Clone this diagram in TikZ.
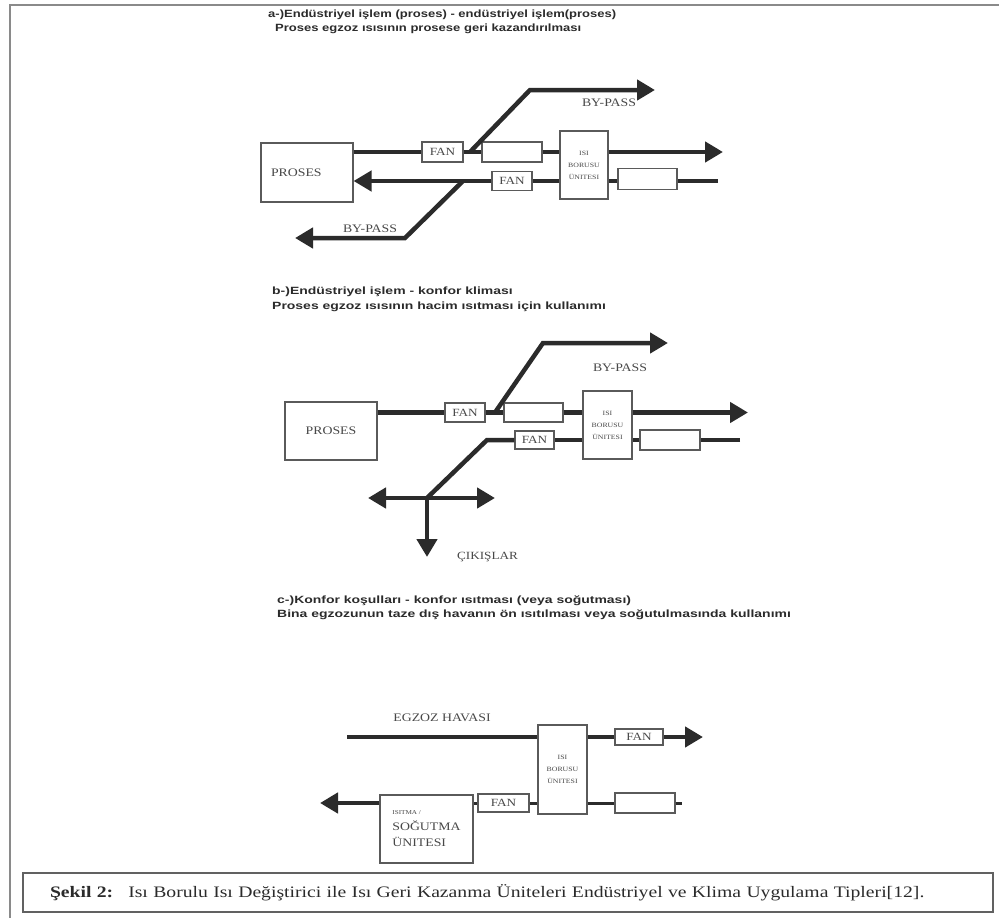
\documentclass[tikz,border=0pt]{standalone}
\usepackage{fontspec}
\setmainfont[FakeStretch=1.2]{Liberation Serif}
\newfontfamily\headfont[FakeStretch=1.33]{Liberation Sans}
\newfontfamily\headfontA[FakeStretch=1.24]{Liberation Sans}
\newfontfamily\capfont[FakeStretch=1.23]{Liberation Serif}
\usetikzlibrary{arrows.meta}
\definecolor{ink}{HTML}{2B2B2B}
\definecolor{boxline}{HTML}{5A5A5A}
\definecolor{labeltext}{HTML}{484848}
\definecolor{frameline}{HTML}{8A8A8A}

\begin{document}
\begin{tikzpicture}[x=1pt,y=-1pt,
  flow/.style={draw=ink,line width=4.5pt},
  thinflow/.style={draw=ink,line width=3pt},
  flowout/.style={flow,-{Triangle[length=18pt,width=20pt]}},
  unit/.style={draw=boxline,line width=1.1pt,fill=white,inner sep=0pt,text=labeltext},
  fanbox/.style={unit,font=\fontsize{11}{11}\selectfont},
  pipebox/.style={unit,align=center,font=\fontsize{6.5}{12}\selectfont},
  tag/.style={inner sep=0pt,text=labeltext,font=\fontsize{11.5}{12}\selectfont},
  head/.style={anchor=west,inner sep=0pt,text=ink,font=\headfont\bfseries\fontsize{10.5}{12}\selectfont},
  headA/.style={head,font=\headfontA\bfseries\fontsize{10.5}{12}\selectfont}]
  \useasboundingbox (0,0) rectangle (999,918);
  \draw[frameline,line width=1.5pt] (10,918) -- (10,5) -- (999,5);

  \node[headA] (headA1) at (268,15) {a-)Endüstriyel işlem (proses) - endüstriyel işlem(proses)};
  \node[headA] (headA2) at (275,29) {Proses egzoz ısısının prosese geri kazandırılması};
  \node[unit,minimum width=92pt,minimum height=59pt,tag,text width=72pt,align=left] (procA) at (307,172.5) {PROSES};
  \node[fanbox,minimum width=41pt,minimum height=20pt] (fanA1) at (442.5,152) {FAN};
  \node[unit,minimum width=60pt,minimum height=20pt] (emptyA1) at (512,152) {};
  \node[pipebox,minimum width=48pt,minimum height=68pt] (hpA) at (584,165) {ISI\\BORUSU\\ÜNITESI};
  \node[fanbox,minimum width=40pt,minimum height=19pt] (fanA2) at (512,181) {FAN};
  \node[unit,minimum width=59pt,minimum height=21pt] (emptyA2) at (647.5,179) {};
  \coordinate (outA) at (723,152);
  \coordinate (inA) at (718,181);
  \coordinate (jA1) at (470,152);
  \coordinate (bpA1) at (530,90);
  \coordinate (bpA1out) at (655,90);
  \coordinate (jA2) at (463,181);
  \coordinate (bpA2) at (405,238);
  \coordinate (bpA2out) at (295,238);
  \draw[flow] (procA.east |- fanA1.west) -- (fanA1.west);
  \draw[flow] (fanA1.east) -- (emptyA1.west);
  \draw[flow] (emptyA1.east) -- (hpA.west |- emptyA1.east);
  \draw[flowout] (hpA.east |- emptyA1.east) -- (outA);
  \draw[flowout] (jA1) -- (bpA1) -- (bpA1out);
  \draw[flow] (inA) -- (emptyA2.east |- inA);
  \draw[flow] (emptyA2.west |- inA) -- (hpA.east |- inA);
  \draw[flow] (hpA.west |- fanA2.east) -- (fanA2.east);
  \draw[flowout] (fanA2.west) -- (procA.east |- fanA2.west);
  \draw[flowout] (jA2) -- (bpA2) -- (bpA2out);
  \node[tag] (bypassA1) at (609,103) {BY-PASS};
  \node[tag] (bypassA2) at (370,229) {BY-PASS};

  \node[head] (headB1) at (272,292) {b-)Endüstriyel işlem - konfor kliması};
  \node[head] (headB2) at (272,307) {Proses egzoz ısısının hacim ısıtması için kullanımı};
  \node[unit,minimum width=92pt,minimum height=58pt,tag] (procB) at (331,431) {PROSES};
  \node[fanbox,minimum width=40pt,minimum height=19pt] (fanB1) at (465,412.5) {FAN};
  \node[unit,minimum width=59pt,minimum height=19pt] (emptyB1) at (533.5,412.5) {};
  \node[pipebox,minimum width=49pt,minimum height=68pt] (hpB) at (607.5,425) {ISI\\BORUSU\\ÜNITESI};
  \node[fanbox,minimum width=39pt,minimum height=18pt] (fanB2) at (534.5,440) {FAN};
  \node[unit,minimum width=60pt,minimum height=20pt] (emptyB2) at (670,440) {};
  \coordinate (outB) at (748,412.5);
  \coordinate (inB) at (740,440);
  \coordinate (jB1) at (495,412.5);
  \coordinate (bpB1) at (543,343);
  \coordinate (bpB1out) at (668,343);
  \coordinate (bendB) at (487,440);
  \coordinate (jB) at (427,498);
  \coordinate (exitL) at (368,498);
  \coordinate (exitR) at (495,498);
  \coordinate (exitD) at (427,557);
  \draw[flow] (procB.east |- fanB1.west) -- (fanB1.west);
  \draw[flow] (fanB1.east) -- (emptyB1.west);
  \draw[flow] (emptyB1.east) -- (hpB.west |- emptyB1.east);
  \draw[flowout] (hpB.east |- emptyB1.east) -- (outB);
  \draw[flowout] (jB1) -- (bpB1) -- (bpB1out);
  \draw[flow] (inB) -- (emptyB2.east);
  \draw[flow] (emptyB2.west) -- (hpB.east |- emptyB2.west);
  \draw[flow] (hpB.west |- fanB2.east) -- (fanB2.east);
  \draw[flow] (fanB2.west) -- (bendB) -- (jB);
  \draw[flowout] (jB) -- (exitL);
  \draw[flowout] (jB) -- (exitR);
  \draw[flowout] (jB) -- (exitD);
  \node[tag] (bypassB) at (620,368) {BY-PASS};
  \node[tag,font=\fontsize{11}{12}\selectfont] (exits) at (487.5,557) {ÇIKIŞLAR};

  \node[head] (headC1) at (277,601) {c-)Konfor koşulları - konfor ısıtması (veya soğutması)};
  \node[head] (headC2) at (277,615) {Bina egzozunun taze dış havanın ön ısıtılması veya soğutulmasında kullanımı};
  \node[pipebox,minimum width=49pt,minimum height=89pt] (hpC) at (562.5,769.5) {ISI\\BORUSU\\ÜNITESI};
  \node[fanbox,minimum width=48pt,minimum height=16pt] (fanC1) at (639,737) {FAN};
  \node[unit,minimum width=60pt,minimum height=20pt] (emptyC) at (645,803) {};
  \node[fanbox,minimum width=51pt,minimum height=18pt] (fanC2) at (503.5,803) {FAN};
  \node[unit,minimum width=93pt,minimum height=68pt,align=left,font=\fontsize{11.5}{16}\selectfont] (coolC) at (426.5,829) {{\fontsize{6}{6}\selectfont ISITMA /}\\SOĞUTMA\\ÜNITESI};
  \coordinate (inC) at (347,737);
  \coordinate (outC) at (703,737);
  \coordinate (tailC) at (682,803);
  \coordinate (outC2) at (320,803);
  \draw[flow] (inC) -- (hpC.west |- inC);
  \draw[flow] (hpC.east |- inC) -- (fanC1.west);
  \draw[flowout] (fanC1.east) -- (outC);
  \draw[thinflow] (hpC.east |- emptyC.west) -- (emptyC.west);
  \draw[thinflow] (emptyC.east) -- (tailC);
  \draw[thinflow] (hpC.west |- fanC2.east) -- (fanC2.east);
  \draw[thinflow] (fanC2.west) -- (coolC.east |- fanC2.west);
  \draw[flowout] (coolC.west |- fanC2.west) -- (outC2);
  \node[tag] (exhaust) at (442,718) {EGZOZ HAVASI};

  \node[draw=frameline!70!black,line width=1.8pt,inner xsep=27pt,inner ysep=0pt,minimum height=39pt,text width=916pt,align=left,text=ink,font=\capfont\fontsize{16}{18}\selectfont] (caption) at (508,892.5) {\textbf{Şekil 2:}\hspace{15pt}Isı Borulu Isı Değiştirici ile Isı Geri Kazanma Üniteleri Endüstriyel ve Klima Uygulama Tipleri[12].};
\end{tikzpicture}
\end{document}
